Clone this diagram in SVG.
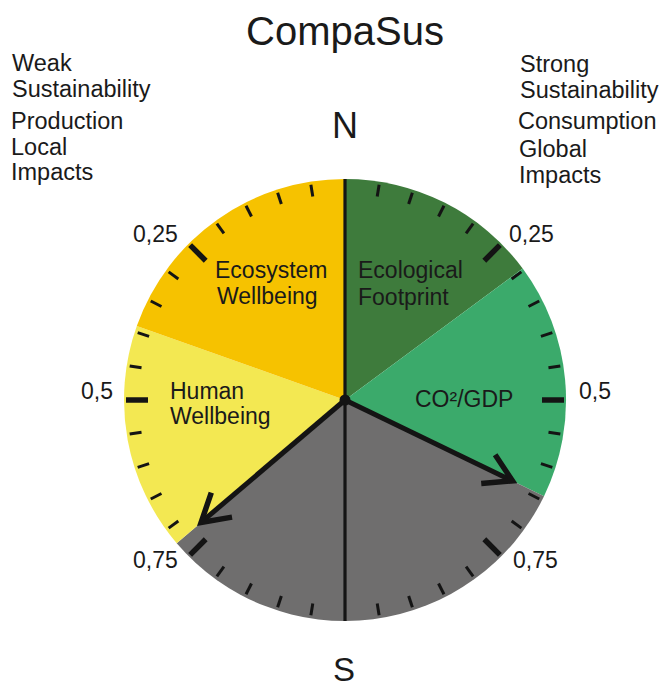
<svg xmlns="http://www.w3.org/2000/svg" width="661" height="689" viewBox="0 0 661 689">
<style>
text{font-family:"Liberation Sans",Arial,sans-serif;fill:#1a1a1a}
.side{font-size:23.5px}
.scale{font-size:23px}
.lbl{font-size:23px}
.minor{stroke:#141414;stroke-width:3}
.major{stroke:#141414;stroke-width:5.5}
.arrow{stroke:#141414;stroke-width:5;fill:none}
</style>
<defs>
<marker id="vhead" markerUnits="userSpaceOnUse" markerWidth="60" markerHeight="60" viewBox="-40 -30 60 60" refX="0" refY="0" orient="auto">
<path d="M-27,-16 L0,0 L-27,16" fill="none" stroke="#141414" stroke-width="5.5" stroke-linejoin="miter"/>
</marker>
</defs>
<rect width="661" height="689" fill="#ffffff"/>
<text x="345" y="45" font-size="40" text-anchor="middle">CompaSus</text>
<g id="left-legend" class="side">
<text x="12" y="71">Weak</text>
<text x="12" y="97">Sustainability</text>
<text x="11" y="129">Production</text>
<text x="11" y="155">Local</text>
<text x="11" y="180">Impacts</text>
</g>
<g id="right-legend" class="side">
<text x="520" y="72">Strong</text>
<text x="520" y="98">Sustainability</text>
<text x="518" y="129">Consumption</text>
<text x="519" y="157">Global</text>
<text x="519" y="183">Impacts</text>
</g>
<text x="345" y="138" font-size="36" text-anchor="middle">N</text>
<text x="344" y="681" font-size="33" text-anchor="middle">S</text>
<g id="sector-ecological-footprint">
<path d="M345,400 L345,179 A221,221 0 0 1 522.7,268.5 Z" fill="#3E7B3C"/>
<text class="lbl" x="358" y="278">Ecological</text>
<text class="lbl" x="358" y="305">Footprint</text>
</g>
<g id="sector-co2-gdp">
<path d="M345,400 L522.7,268.5 A221,221 0 0 1 544,496.2 Z" fill="#3BAA6B"/>
<text class="lbl" x="415" y="407">CO²/GDP</text>
</g>
<g id="sector-grey">
<path d="M345,400 L544,496.2 A221,221 0 0 1 176.7,543.2 Z" fill="#6F6E6E"/>
</g>
<g id="sector-human-wellbeing">
<path d="M345,400 L176.7,543.2 A221,221 0 0 1 136.8,325.9 Z" fill="#F3E852"/>
<text class="lbl" x="170" y="399">Human</text>
<text class="lbl" x="170" y="424">Wellbeing</text>
</g>
<g id="sector-ecosystem-wellbeing">
<path d="M345,400 L136.8,325.9 A221,221 0 0 1 345,179 Z" fill="#F6C200"/>
<text class="lbl" x="215" y="278">Ecosystem</text>
<text class="lbl" x="217" y="304">Wellbeing</text>
</g>
<g id="ticks">
<line class="minor" x1="345" y1="182" x2="345" y2="194" transform="rotate(9 345 400)"/>
<line class="minor" x1="345" y1="182" x2="345" y2="194" transform="rotate(18 345 400)"/>
<line class="minor" x1="345" y1="182" x2="345" y2="194" transform="rotate(27 345 400)"/>
<line class="minor" x1="345" y1="182" x2="345" y2="194" transform="rotate(36 345 400)"/>
<line class="major" x1="345" y1="181" x2="345" y2="203" transform="rotate(45 345 400)"/>
<line class="minor" x1="345" y1="182" x2="345" y2="194" transform="rotate(54 345 400)"/>
<line class="minor" x1="345" y1="182" x2="345" y2="194" transform="rotate(63 345 400)"/>
<line class="minor" x1="345" y1="182" x2="345" y2="194" transform="rotate(72 345 400)"/>
<line class="minor" x1="345" y1="182" x2="345" y2="194" transform="rotate(81 345 400)"/>
<line class="major" x1="345" y1="181" x2="345" y2="203" transform="rotate(90 345 400)"/>
<line class="minor" x1="345" y1="182" x2="345" y2="194" transform="rotate(99 345 400)"/>
<line class="minor" x1="345" y1="182" x2="345" y2="194" transform="rotate(108 345 400)"/>
<line class="minor" x1="345" y1="182" x2="345" y2="194" transform="rotate(117 345 400)"/>
<line class="minor" x1="345" y1="182" x2="345" y2="194" transform="rotate(126 345 400)"/>
<line class="major" x1="345" y1="181" x2="345" y2="203" transform="rotate(135 345 400)"/>
<line class="minor" x1="345" y1="182" x2="345" y2="194" transform="rotate(144 345 400)"/>
<line class="minor" x1="345" y1="182" x2="345" y2="194" transform="rotate(153 345 400)"/>
<line class="minor" x1="345" y1="182" x2="345" y2="194" transform="rotate(162 345 400)"/>
<line class="minor" x1="345" y1="182" x2="345" y2="194" transform="rotate(171 345 400)"/>
<line class="minor" x1="345" y1="182" x2="345" y2="194" transform="rotate(189 345 400)"/>
<line class="minor" x1="345" y1="182" x2="345" y2="194" transform="rotate(198 345 400)"/>
<line class="minor" x1="345" y1="182" x2="345" y2="194" transform="rotate(207 345 400)"/>
<line class="minor" x1="345" y1="182" x2="345" y2="194" transform="rotate(216 345 400)"/>
<line class="major" x1="345" y1="181" x2="345" y2="203" transform="rotate(225 345 400)"/>
<line class="minor" x1="345" y1="182" x2="345" y2="194" transform="rotate(234 345 400)"/>
<line class="minor" x1="345" y1="182" x2="345" y2="194" transform="rotate(243 345 400)"/>
<line class="minor" x1="345" y1="182" x2="345" y2="194" transform="rotate(252 345 400)"/>
<line class="minor" x1="345" y1="182" x2="345" y2="194" transform="rotate(261 345 400)"/>
<line class="major" x1="345" y1="181" x2="345" y2="203" transform="rotate(270 345 400)"/>
<line class="minor" x1="345" y1="182" x2="345" y2="194" transform="rotate(279 345 400)"/>
<line class="minor" x1="345" y1="182" x2="345" y2="194" transform="rotate(288 345 400)"/>
<line class="minor" x1="345" y1="182" x2="345" y2="194" transform="rotate(297 345 400)"/>
<line class="minor" x1="345" y1="182" x2="345" y2="194" transform="rotate(306 345 400)"/>
<line class="major" x1="345" y1="181" x2="345" y2="203" transform="rotate(315 345 400)"/>
<line class="minor" x1="345" y1="182" x2="345" y2="194" transform="rotate(324 345 400)"/>
<line class="minor" x1="345" y1="182" x2="345" y2="194" transform="rotate(333 345 400)"/>
<line class="minor" x1="345" y1="182" x2="345" y2="194" transform="rotate(342 345 400)"/>
<line class="minor" x1="345" y1="182" x2="345" y2="194" transform="rotate(351 345 400)"/>
</g>
<g id="scale-labels" class="scale">
<text x="133" y="242">0,25</text>
<text x="509" y="242">0,25</text>
<text x="81" y="399">0,5</text>
<text x="579" y="399">0,5</text>
<text x="133" y="568">0,75</text>
<text x="513" y="568">0,75</text>
</g>
<g id="connectors">
<line x1="345" y1="179" x2="345" y2="621" stroke="#141414" stroke-width="3.2"/>
<line class="arrow" x1="345" y1="400" x2="512.5" y2="480.9" marker-end="url(#vhead)"/>
<line class="arrow" x1="345" y1="400" x2="201.1" y2="522.4" marker-end="url(#vhead)"/>
<circle cx="345" cy="400" r="5.5" fill="#141414"/>
</g>
</svg>
